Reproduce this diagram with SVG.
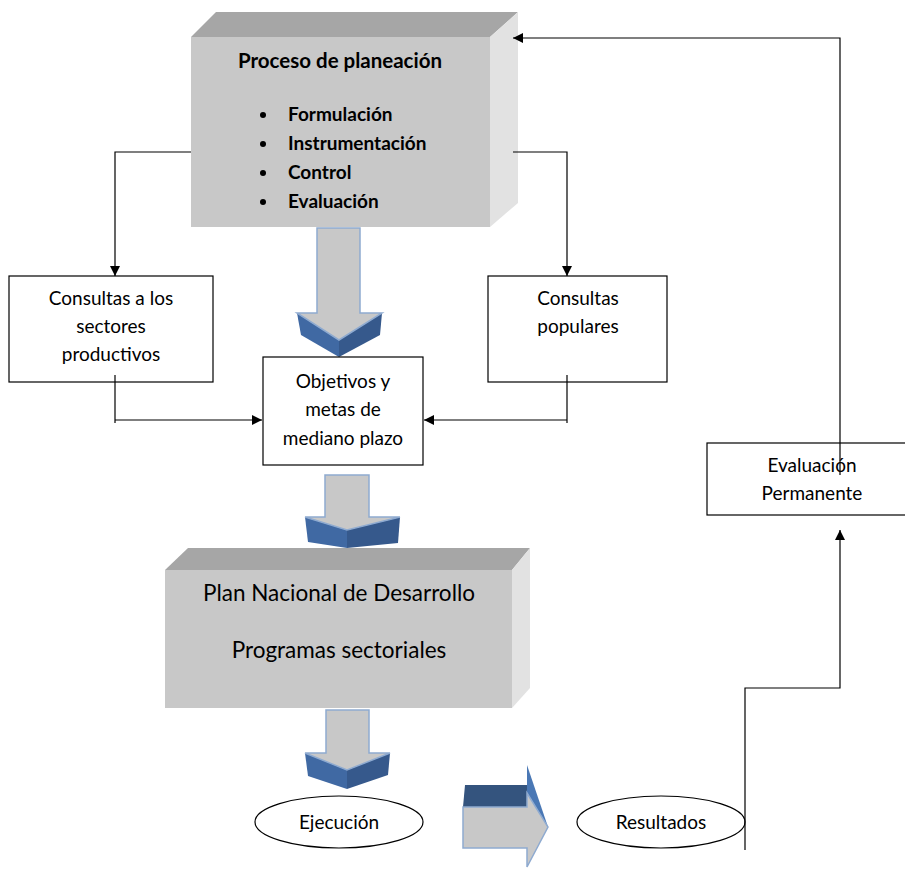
<svg xmlns="http://www.w3.org/2000/svg" width="905" height="869" viewBox="0 0 905 869">
<style>
.t{font-family:Lato,"Liberation Sans",sans-serif;font-size:19px;fill:#000;text-anchor:middle}
.b{font-family:Lato,"Liberation Sans",sans-serif;font-weight:bold;fill:#000}
.big{font-family:Lato,"Liberation Sans",sans-serif;font-size:22.5px;fill:#000;text-anchor:middle}
.box{fill:#fff;stroke:#000;stroke-width:1.2}
.front{fill:#c8c8c8}
.top{fill:#a6a6a6}
.side{fill:#e2e2e2}
.shaft{fill:#c8c8c8;stroke:#8eaad0;stroke-width:1.5}
.blue1{fill:#4069a3}
.blue2{fill:#36598c}
.ln{fill:none;stroke:#000;stroke-width:1.2}
</style>
<defs>
<marker id="ah" viewBox="0 0 10 10" refX="10" refY="5" markerWidth="10" markerHeight="10" markerUnits="userSpaceOnUse" orient="auto">
<path d="M0,0 L10,5 L0,10 z" fill="#000"/>
</marker>
</defs>

<g id="proceso">
<polygon class="top" points="191,37 216,12 518,12 490,37"/>
<rect class="front" x="191" y="37" width="299" height="190"/>
<polygon class="side" points="490,37 518,12 518,203 490,227"/>
<text class="b" x="340" y="68" font-size="20.5" text-anchor="middle">Proceso de planeación</text>
<circle cx="263" cy="115" r="3"/><text class="b" x="288" y="121" font-size="19">Formulación</text>
<circle cx="263" cy="144" r="3"/><text class="b" x="288" y="150" font-size="19">Instrumentación</text>
<circle cx="263" cy="173" r="3"/><text class="b" x="288" y="179" font-size="19">Control</text>
<circle cx="263" cy="202" r="3"/><text class="b" x="288" y="208" font-size="19">Evaluación</text>
</g>

<g id="arrow1">
<polygon class="blue1" points="297,313 301,335 339,357 339,340"/>
<polygon class="blue2" points="339,340 339,357 380,335 382,313"/>
<polygon class="shaft" points="317,228 360,228 360,313 382,313 339,340 297,313 317,313"/>
</g>

<g id="consultas-sectores">
<rect class="box" x="9" y="276" width="204" height="106"/>
<text class="t" x="111" y="305">Consultas a los</text>
<text class="t" x="111" y="333">sectores</text>
<text class="t" x="111" y="361">productivos</text>
</g>

<g id="consultas-populares">
<rect class="box" x="488" y="276" width="179" height="106"/>
<text class="t" x="578" y="305">Consultas</text>
<text class="t" x="578" y="333">populares</text>
</g>

<g id="objetivos">
<rect class="box" x="263" y="357" width="160" height="108"/>
<text class="t" x="343" y="388">Objetivos y</text>
<text class="t" x="343" y="416">metas de</text>
<text class="t" x="343" y="445">mediano plazo</text>
</g>

<g id="arrow2">
<polygon class="blue1" points="305,517 308,542 347,548 347,530"/>
<polygon class="blue2" points="347,530 347,548 398,543 400,517"/>
<polygon class="shaft" points="325,475 369,475 369,517 400,517 347,530 305,517 325,517"/>
</g>

<g id="plan">
<polygon class="top" points="165,570 188,548 530,548 512,570"/>
<rect class="front" x="165" y="570" width="347" height="138"/>
<polygon class="side" points="512,570 530,548 530,688 512,708"/>
<text class="big" x="339" y="601">Plan Nacional de Desarrollo</text>
<text class="big" x="339" y="658">Programas sectoriales</text>
</g>

<g id="arrow3">
<polygon class="blue1" points="305,753 308,776 347,789 347,770"/>
<polygon class="blue2" points="347,770 347,789 388,775 390,753"/>
<polygon class="shaft" points="326,710 369,710 369,753 390,753 347,770 305,753 326,753"/>
</g>

<g id="ejecucion">
<ellipse class="box" cx="339" cy="822" rx="84" ry="26"/>
<text class="t" x="339" y="829">Ejecución</text>
</g>

<g id="arrow4">
<polygon fill="#34547e" points="463,807 465,785 527,785 527,807"/>
<polygon fill="#4a78b5" points="527,765 548,827 527,793"/>
<polygon class="shaft" points="463,807 527,807 527,793 548,827 527,867 527,848 463,848"/>
</g>

<g id="resultados">
<ellipse class="box" cx="661" cy="822" rx="84" ry="26"/>
<text class="t" x="661" y="829">Resultados</text>
</g>

<g id="evaluacion">
<rect class="box" x="707" y="443" width="199" height="72"/>
<text class="t" x="812" y="472">Evaluación</text>
<text class="t" x="812" y="500">Permanente</text>
</g>

<g id="connectors">
<polyline class="ln" points="191,152 115,152 115,276" marker-end="url(#ah)"/>
<polyline class="ln" points="513,152 567,152 567,276" marker-end="url(#ah)"/>
<polyline class="ln" points="115,375 115,423"/>
<polyline class="ln" points="115,420 262,420" marker-end="url(#ah)"/>
<polyline class="ln" points="567,375 567,423"/>
<polyline class="ln" points="567,420 424,420" marker-end="url(#ah)"/>
<polyline class="ln" points="745,850 745,688 840,688 840,530" marker-end="url(#ah)"/>
<polyline class="ln" points="840,475 840,38 513,38" marker-end="url(#ah)"/>
</g>
</svg>
